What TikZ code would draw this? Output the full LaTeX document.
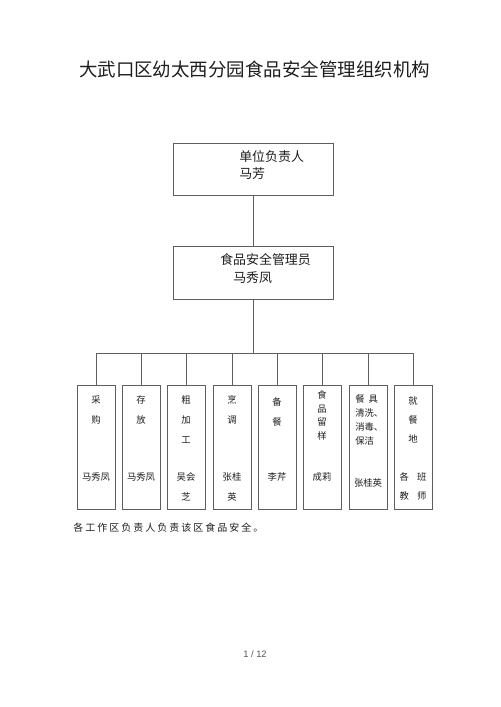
\documentclass[tikz,border=0pt]{standalone}
\usepackage{fontspec}
\setmainfont{Noto Sans CJK SC}
\newfontfamily\cjksp[LetterSpace=20]{Noto Sans CJK SC}
\newfontfamily\latinsans{Liberation Sans}
\definecolor{linegray}{HTML}{5E5E5E}
\definecolor{textblack}{HTML}{1E1E1E}
\definecolor{pagegray}{HTML}{555555}
\begin{document}
\begin{tikzpicture}[x=0.75pt,y=-0.75pt,
  box/.style={draw=linegray,line width=0.6pt,inner sep=0pt,minimum width=120pt,minimum height=39.5pt},
  colbox/.style={draw=linegray,line width=0.7pt,inner sep=0pt,minimum width=28.5pt,minimum height=93pt},
  conn/.style={draw=linegray,line width=0.6pt},
  hdtxt/.style={inner sep=0pt,text=textblack,font=\fontsize{9.7pt}{12.75pt}\selectfont},
  coltxt/.style={inner sep=0pt,text=textblack,align=center,anchor=north},
  colfont/.style={font=\fontsize{7pt}{#1}\selectfont},
]
\useasboundingbox (0,0) rectangle (500,707);
\fill[white] (0,0) rectangle (500,707);

% title
\node[inner sep=0pt,text=textblack,font=\fontsize{13.85pt}{16pt}\selectfont] (title) at (254.5,69.5) {大武口区幼太西分园食品安全管理组织机构};

% top boxes
\node[box] (u) at (253,169.5) {};
\node[hdtxt,anchor=north west,align=left] (ut) at (239,150) {单位负责人\\马芳};
\node[box] (m) at (253,273) {};
\node[hdtxt,anchor=west] (mt1) at (220,260) {食品安全管理员};
\node[hdtxt,anchor=west] (mt2) at (233,278) {马秀凤};

% column boxes
\node[colbox] (b1) at (96,447) {};
\node[colbox] (b2) at (141,447) {};
\node[colbox] (b3) at (186,447) {};
\node[colbox] (b4) at (232,447) {};
\node[colbox] (b5) at (277,447) {};
\node[colbox] (b6) at (322,447) {};
\node[colbox] (b7) at (368,447) {};
\node[colbox] (b8) at (413,447) {};

% connectors
\coordinate (bus) at (253,353);
\draw[conn] (u.south) -- (m.north);
\draw[conn] (m.south) -- (bus);
\draw[conn] (b1.north |- bus) -- (b8.north |- bus);
\foreach \b in {b1,b2,b3,b4,b5,b6,b7,b8}
  \draw[conn] (\b.north) -- (\b.north |- bus);

% column headers
\node[coltxt,colfont=15pt] (h1) at (96,395.6) {采\\购};
\node[coltxt,colfont=15pt] (h2) at (141,395.6) {存\\放};
\node[coltxt,colfont=15pt] (h3) at (186,395.6) {粗\\加\\工};
\node[coltxt,colfont=15pt] (h4) at (232,395.6) {烹\\调};
\node[coltxt,colfont=15pt] (h5) at (277,397.6) {备\\餐};
\node[coltxt,colfont=10.1pt] (h6) at (322,390.6) {食\\品\\留\\样};
\node[coltxt,colfont=10.5pt,align=left,anchor=north west] (h7) at (355,394.6) {餐\hspace{3pt}具\\清洗、\\消毒、\\保洁};
\node[coltxt,colfont=14.25pt] (h8) at (413,396.6) {就\\餐\\地};

% names
\node[coltxt,colfont=15pt] (n1) at (96,472.6) {马秀凤};
\node[coltxt,colfont=15pt] (n2) at (141,472.6) {马秀凤};
\node[coltxt,colfont=15pt] (n3) at (186,472.6) {吴会\\芝};
\node[coltxt,colfont=15pt] (n4) at (232,472.6) {张桂\\英};
\node[coltxt,colfont=15pt] (n5) at (277,472.6) {李芹};
\node[coltxt,colfont=15pt] (n6) at (322,472.6) {成莉};
\node[coltxt,colfont=15pt] (n7) at (368,478.6) {张桂英};
\node[coltxt,colfont=14.25pt] (n8) at (413,472.6) {各\hspace{6pt}班\\教\hspace{6pt}师};

% note
\node[inner sep=0pt,anchor=west,text=textblack,font=\cjksp\fontsize{7.5pt}{9pt}\selectfont] (note) at (73,528) {各工作区负责人负责该区食品安全。};

% page number
\node[inner sep=0pt,text=pagegray,font=\latinsans\fontsize{7pt}{8pt}\selectfont] (page) at (255,654) {1 / 12};
\end{tikzpicture}
\end{document}
